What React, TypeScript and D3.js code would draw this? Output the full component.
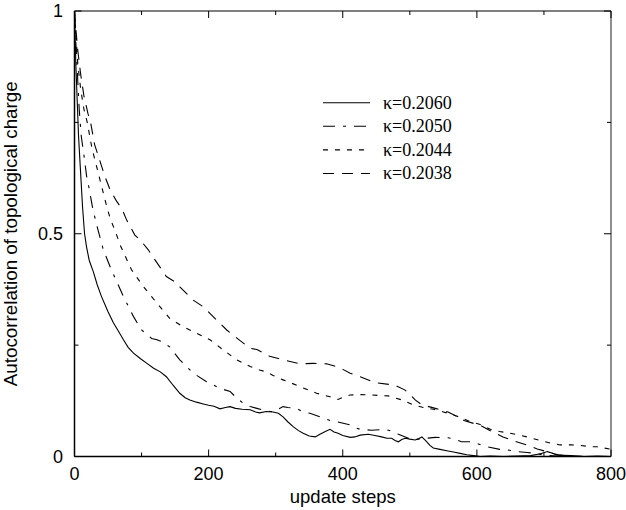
import React from "react";
import * as d3 from "d3";

// ---- data ----
const seriesLabels = ["κ=0.2060", "κ=0.2050", "κ=0.2044", "κ=0.2038"];

const k2060: [number, number][] = [
  [0, 1.0], [2, 0.88], [4, 0.8], [6, 0.72], [9, 0.64], [12, 0.56], [15, 0.5], [18, 0.47],
  [22, 0.44], [28, 0.415], [34, 0.385], [40, 0.36], [50, 0.325], [58, 0.3], [66, 0.28],
  [73, 0.262], [80, 0.245], [88, 0.232], [98, 0.22], [108, 0.209], [118, 0.198], [128, 0.19],
  [137, 0.179], [147, 0.16], [157, 0.142], [165, 0.132], [172, 0.127], [182, 0.122],
  [192, 0.118], [200, 0.115], [208, 0.113], [217, 0.107], [225, 0.11], [232, 0.112],
  [240, 0.108], [250, 0.106], [262, 0.105], [270, 0.1], [276, 0.098], [286, 0.101],
  [296, 0.1], [304, 0.097], [311, 0.089], [318, 0.078], [326, 0.067], [334, 0.058],
  [341, 0.052], [350, 0.046], [359, 0.044], [366, 0.05], [374, 0.056], [381, 0.061],
  [387, 0.055], [393, 0.052], [400, 0.047], [411, 0.043], [418, 0.044], [426, 0.048],
  [438, 0.05], [448, 0.047], [458, 0.044], [466, 0.041], [473, 0.041], [478, 0.036],
  [483, 0.033], [488, 0.038], [493, 0.041], [500, 0.039], [508, 0.037], [513, 0.04],
  [518, 0.044], [524, 0.035], [530, 0.025], [535, 0.019], [545, 0.016], [555, 0.013],
  [565, 0.01], [575, 0.007], [585, 0.004], [595, 0.002], [605, 0.0], [620, 0.001],
  [640, 0.0], [660, 0.001], [680, 0.002], [695, 0.006], [705, 0.011], [712, 0.008],
  [720, 0.003], [740, 0.002], [760, 0.0], [780, 0.001], [800, 0.0],
];

const k2050: [number, number][] = [
  [0, 1.0], [2, 0.93], [4, 0.87], [7, 0.78], [10, 0.72], [14, 0.677], [18, 0.63],
  [22, 0.6], [27, 0.558], [33, 0.52], [43, 0.464], [55, 0.419], [73, 0.359], [88, 0.314],
  [100, 0.284], [115, 0.265], [123, 0.262], [130, 0.258], [142, 0.246], [157, 0.217],
  [177, 0.187], [197, 0.168], [217, 0.153], [232, 0.146], [242, 0.131], [252, 0.119],
  [262, 0.112], [272, 0.108], [282, 0.104], [296, 0.1], [304, 0.106], [311, 0.112],
  [318, 0.11], [331, 0.108], [341, 0.1], [351, 0.097], [366, 0.089], [371, 0.086],
  [386, 0.078], [391, 0.078], [411, 0.071], [418, 0.065], [426, 0.061], [443, 0.059],
  [463, 0.061], [475, 0.056], [483, 0.05], [498, 0.041], [513, 0.039], [525, 0.041],
  [538, 0.043], [557, 0.042], [565, 0.04], [577, 0.033], [590, 0.033], [600, 0.029],
  [615, 0.022], [634, 0.016], [645, 0.015], [659, 0.011], [675, 0.009], [689, 0.007],
  [700, 0.003], [720, 0.001], [740, 0.0], [760, 0.0], [780, 0.0], [800, 0.0],
];

const k2044: [number, number][] = [
  [0, 1.0], [2, 0.95], [5, 0.88], [9, 0.827], [14, 0.78], [19, 0.75], [26, 0.692],
  [36, 0.633], [46, 0.573], [53, 0.535], [61, 0.505], [68, 0.475], [85, 0.419],
  [103, 0.381], [123, 0.344], [142, 0.31], [162, 0.291], [182, 0.277], [202, 0.262],
  [222, 0.239], [242, 0.217], [262, 0.202], [276, 0.194], [286, 0.19], [296, 0.182],
  [311, 0.172], [323, 0.165], [336, 0.157], [349, 0.149], [361, 0.142], [371, 0.138],
  [381, 0.134], [393, 0.128], [400, 0.133], [411, 0.138], [426, 0.139], [443, 0.138],
  [468, 0.136], [488, 0.127], [505, 0.116], [520, 0.11], [535, 0.106], [550, 0.1],
  [560, 0.096], [575, 0.088], [590, 0.078], [605, 0.072], [620, 0.061], [634, 0.056],
  [650, 0.052], [664, 0.048], [680, 0.042], [694, 0.036], [710, 0.03], [724, 0.026],
  [740, 0.026], [754, 0.025], [768, 0.022], [779, 0.022], [790, 0.019], [800, 0.016],
];

const k2038: [number, number][] = [
  [0, 1.0], [2, 0.96], [5, 0.91], [9, 0.86], [14, 0.81], [20, 0.77], [24, 0.75],
  [30, 0.7], [38, 0.663], [45, 0.63], [53, 0.599], [62, 0.575], [71, 0.555], [78, 0.53],
  [90, 0.497], [98, 0.486], [110, 0.464], [117, 0.448], [137, 0.404], [152, 0.39],
  [157, 0.381], [177, 0.351], [192, 0.336], [197, 0.329], [212, 0.306], [227, 0.284],
  [247, 0.26], [262, 0.243], [272, 0.24], [291, 0.225], [316, 0.215], [336, 0.208],
  [356, 0.209], [376, 0.208], [391, 0.2015], [401, 0.195], [411, 0.187], [426, 0.179],
  [448, 0.166], [478, 0.16], [493, 0.149], [500, 0.14], [508, 0.127], [518, 0.116],
  [538, 0.108], [557, 0.1], [570, 0.09], [582, 0.08], [605, 0.07], [620, 0.058],
  [639, 0.044], [655, 0.035], [674, 0.026], [690, 0.017], [704, 0.011], [715, 0.006],
  [724, 0.003], [740, 0.001], [760, 0.0], [780, 0.0], [800, 0.0],
];

const seriesData = [k2060, k2050, k2044, k2038];
const seriesDash = ["none", "12,8,3,8", "5,7", "11,8"];

const xMajorTicks = [0, 200, 400, 600, 800];
const xMinorTicks = [100, 300, 500, 700];
const yMajorTicks = [0, 0.5, 1];
const yMinorTicks = [0.25, 0.75];
const yTickLabels = ["0", "0.5", "1"];

export default function App() {
  const W = 626;
  const H = 510;
  const left = 74.5;
  const right = 611;
  const top = 11;
  const bottom = 456.5;

  const x = d3.scaleLinear().domain([0, 800]).range([left, right]);
  const y = d3.scaleLinear().domain([0, 1]).range([bottom, top]);

  const line = d3
    .line<[number, number]>()
    .x((d) => x(d[0]))
    .y((d) => y(d[1]));

  const sans = "'Liberation Sans', Arial, Helvetica, sans-serif";
  const serif = "'Liberation Serif', 'Times New Roman', serif";
  const major = 7;
  const minor = 4;

  const legX1 = 323;
  const legX2 = 370;
  const legTextX = 383;
  const legBase = 108.5;
  const legStep = 23.6;

  return (
    <svg
      width={W}
      height={H}
      style={{ position: "absolute", left: 0, top: 0, background: "#fff" }}
    >
      <rect x={0} y={0} width={W} height={H} fill="#fff" />
      {/* curves */}
      <g fill="none" stroke="#000" strokeWidth={1.1}>
        {seriesData.map((s, i) => (
          <path
            key={i}
            d={line(s) || ""}
            strokeDasharray={seriesDash[i] === "none" ? undefined : seriesDash[i]}
          />
        ))}
      </g>

      {/* frame */}
      <g stroke="#000" fill="none">
        <line x1={left} x2={left} y1={top} y2={bottom} strokeWidth={1.5} />
        <line x1={left} x2={right} y1={bottom} y2={bottom} strokeWidth={1.5} />
        <line x1={left} x2={right} y1={top} y2={top} strokeWidth={1.2} />
        <line x1={right} x2={right} y1={top} y2={bottom} strokeWidth={1.2} stroke="#444" />
      </g>

      {/* ticks */}
      <g stroke="#000" strokeWidth={1}>
        {xMajorTicks.map((t) => (
          <g key={"xM" + t}>
            <line x1={x(t)} x2={x(t)} y1={bottom} y2={bottom - major} />
            <line x1={x(t)} x2={x(t)} y1={top} y2={top + major} />
          </g>
        ))}
        {xMinorTicks.map((t) => (
          <g key={"xm" + t}>
            <line x1={x(t)} x2={x(t)} y1={bottom} y2={bottom - minor} />
            <line x1={x(t)} x2={x(t)} y1={top} y2={top + minor} />
          </g>
        ))}
        {yMajorTicks.map((t) => (
          <g key={"yM" + t}>
            <line x1={left} x2={left + major} y1={y(t)} y2={y(t)} />
            <line x1={right} x2={right - major} y1={y(t)} y2={y(t)} />
          </g>
        ))}
        {yMinorTicks.map((t) => (
          <g key={"ym" + t}>
            <line x1={left} x2={left + minor} y1={y(t)} y2={y(t)} />
            <line x1={right} x2={right - minor} y1={y(t)} y2={y(t)} />
          </g>
        ))}
      </g>

      {/* tick labels */}
      <g fontFamily={sans} fontSize={18} fill="#000">
        {xMajorTicks.map((t) => (
          <text key={"xl" + t} x={x(t)} y={480} textAnchor="middle">
            {String(t)}
          </text>
        ))}
        {yMajorTicks.map((t, i) => (
          <text
            key={"yl" + t}
            x={63}
            y={y(t)}
            textAnchor="end"
            dominantBaseline="central"
          >
            {yTickLabels[i]}
          </text>
        ))}
      </g>

      {/* axis titles */}
      <text
        x={(left + right) / 2}
        y={503}
        textAnchor="middle"
        fontFamily={sans}
        fontSize={18.5}
      >
        update steps
      </text>
      <text
        transform={`translate(16.5, ${(top + bottom) / 2}) rotate(-90)`}
        textAnchor="middle"
        fontFamily={sans}
        fontSize={18.8}
      >
        Autocorrelation of topological charge
      </text>

      {/* legend */}
      <g>
        {seriesLabels.map((lab, i) => (
          <g key={lab}>
            <line
              x1={legX1}
              x2={legX2}
              y1={legBase + i * legStep - 5.8}
              y2={legBase + i * legStep - 5.8}
              stroke="#000"
              strokeWidth={1.1}
              strokeDasharray={seriesDash[i] === "none" ? undefined : seriesDash[i]}
            />
            <text
              x={legTextX}
              y={legBase + i * legStep}
              fontFamily={serif}
              fontSize={18}
              fill="#000"
            >
              {lab}
            </text>
          </g>
        ))}
      </g>
    </svg>
  );
}
